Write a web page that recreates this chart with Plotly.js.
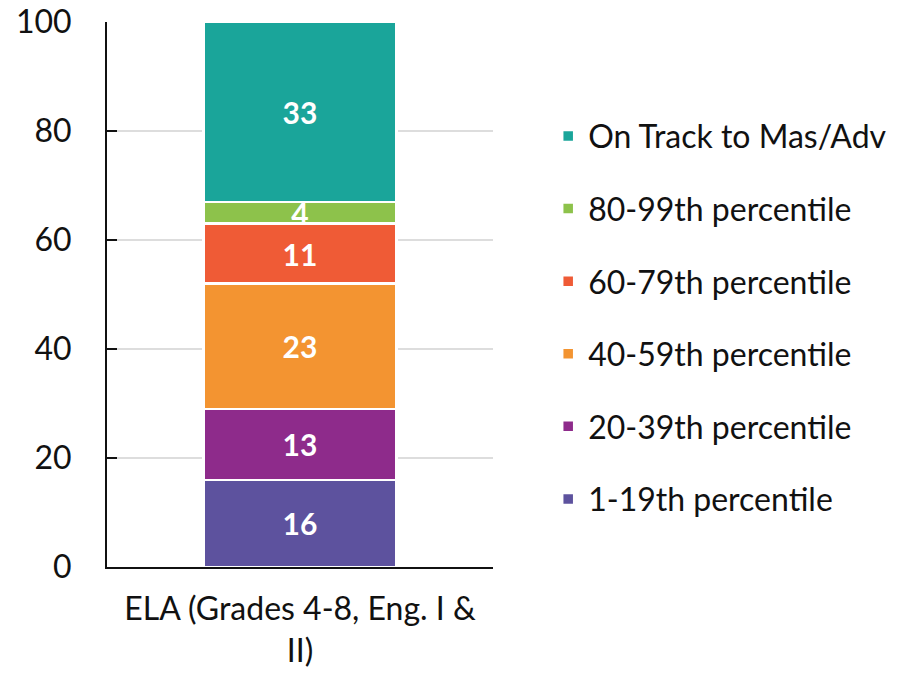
<!DOCTYPE html>
<html>
<head>
<meta charset="utf-8">
<script src="https://cdn.plot.ly/plotly-3.0.1.min.js"></script>
<style>html,body{margin:0;padding:0;background:#fff;}#chart{width:904px;height:673px;}</style>
</head>
<body>
<div id="chart"></div>
<script>
const categories = ["ELA (Grades 4-8, Eng. I &<br>II)"];
const seriesNames = ["1-19th percentile", "20-39th percentile", "40-59th percentile", "60-79th percentile", "80-99th percentile", "On Track to Mas/Adv"];
const seriesValues = [[16], [13], [23], [11], [4], [33]];
const seriesColors = ["#5D529E", "#8E2B8B", "#F39431", "#EF5B36", "#8DC24B", "#1AA59A"];
const yTickValues = [0, 20, 40, 60, 80, 100];

const FONT = "Lato, 'Open Sans', sans-serif";

const traces = seriesNames.map((name, i) => ({
  type: 'bar',
  name: name,
  x: categories,
  y: seriesValues[i],
  text: seriesValues[i].map(String),
  textposition: 'inside',
  insidetextanchor: 'middle',
  textangle: 0,
  textfont: {family: FONT, size: 30, color: '#ffffff', weight: 'bold'},
  marker: {color: seriesColors[i], line: {color: '#ffffff', width: 2.5}},
  width: 0.5,
  legendgroup: 'g' + i,
  legendrank: 1000 - i,
  hoverinfo: 'skip'
}));

const layout = {
  width: 904,
  height: 673,
  margin: {l: 107, r: 411, t: 22, b: 106},
  barmode: 'stack',
  paper_bgcolor: '#ffffff',
  plot_bgcolor: '#ffffff',
  font: {family: FONT, color: '#111111'},
  uniformtext: {minsize: 26, mode: 'show'},
  xaxis: {
    type: 'category',
    range: [-0.5, 0.5],
    showline: true,
    linecolor: '#111111',
    linewidth: 2,
    showgrid: false,
    ticks: '',
    ticklabelstandoff: 13,
    tickfont: {family: FONT, size: 32, color: '#111111'},
    fixedrange: true
  },
  yaxis: {
    range: [0, 100],
    tickvals: yTickValues,
    ticktext: yTickValues.map(String),
    showline: true,
    linecolor: '#111111',
    linewidth: 2,
    ticks: 'inside',
    ticklen: 10,
    tickwidth: 1.5,
    tickcolor: '#111111',
    ticklabelstandoff: 27,
    showgrid: true,
    gridcolor: '#dddddd',
    gridwidth: 1.5,
    zeroline: false,
    tickfont: {family: FONT, size: 32, color: '#111111'},
    fixedrange: true
  },
  showlegend: true,
  legend: {
    x: 1.143,
    xanchor: 'left',
    y: 0.841,
    yanchor: 'top',
    traceorder: 'grouped',
    tracegroupgap: 28,
    font: {family: FONT, size: 32, color: '#111111'},
    itemwidth: 30,
    bgcolor: 'rgba(0,0,0,0)'
  }
};

Plotly.newPlot('chart', traces, layout, {displayModeBar: false, staticPlot: true});
</script>
</body>
</html>
